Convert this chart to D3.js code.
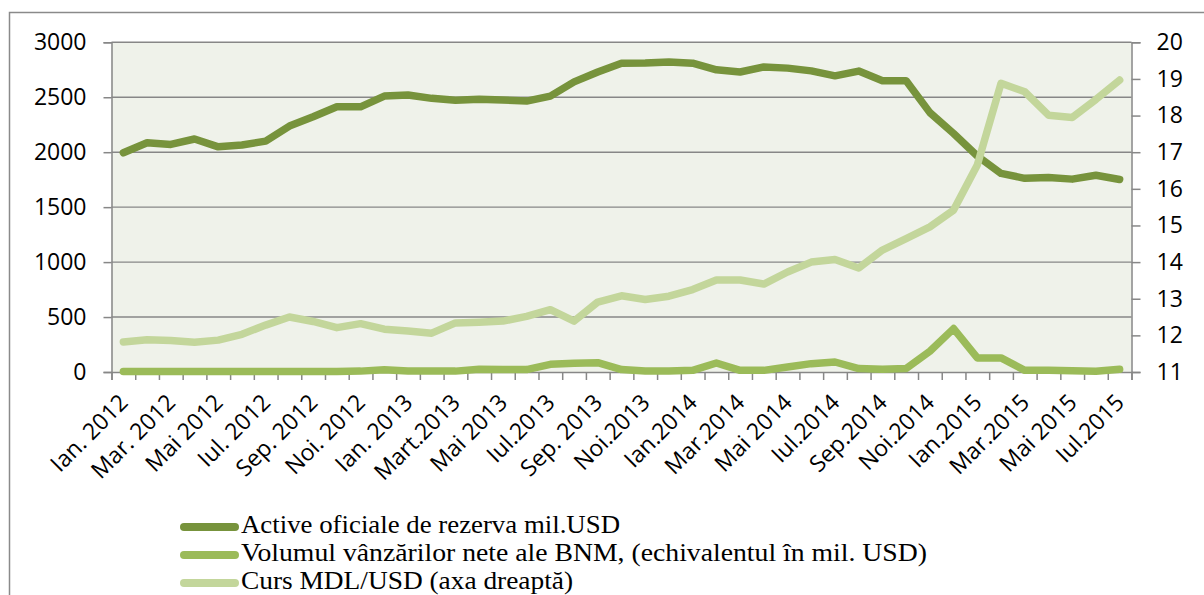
<!DOCTYPE html>
<html>
<head>
<meta charset="utf-8">
<script src="https://cdn.jsdelivr.net/npm/d3@7"></script>
<style>
  html, body { margin: 0; padding: 0; background: #fff; }
  svg { display: block; }
</style>
</head>
<body>
<svg id="chart" width="1204" height="595"></svg>
<script>
// ---- DATA ----
const categories = [
  "Ian. 2012","Feb. 2012","Mar. 2012","Apr. 2012","Mai 2012","Iun. 2012","Iul. 2012","Aug. 2012","Sep. 2012","Oct. 2012","Noi. 2012","Dec. 2012",
  "Ian. 2013","Feb. 2013","Mart.2013","Apr. 2013","Mai 2013","Iun. 2013","Iul.2013","Aug. 2013","Sep. 2013","Oct. 2013","Noi.2013","Dec. 2013",
  "Ian.2014","Feb.2014","Mar.2014","Apr.2014","Mai 2014","Iun.2014","Iul.2014","Aug.2014","Sep.2014","Oct.2014","Noi.2014","Dec.2014",
  "Ian.2015","Feb.2015","Mar.2015","Apr.2015","Mai 2015","Iun.2015","Iul.2015"
];
const tickLabels = categories.filter((d, i) => i % 2 === 0);

const activeReserves = [
  1995, 2086, 2071, 2120, 2049, 2065, 2101, 2238, 2322, 2413, 2413, 2511,
  2520, 2490, 2472, 2482, 2475, 2465, 2510, 2640, 2730, 2810, 2812, 2820,
  2810, 2750, 2730, 2775, 2765, 2740, 2695, 2738, 2650, 2650, 2360, 2170,
  1965, 1807, 1762, 1770, 1755, 1790, 1752
];
const netSales = [
  5, 5, 5, 5, 5, 5, 5, 5, 5, 5, 8, 20,
  10, 8, 8, 25, 22, 22, 70, 80, 85, 22, 9, 9,
  15, 82, 15, 15, 46, 76, 91, 31, 25, 31, 189, 395,
  128, 128, 15, 15, 12, 6, 25
];
const exchangeRate = [
  11.82, 11.88, 11.86, 11.81, 11.87, 12.03, 12.28, 12.50, 12.38, 12.21, 12.32, 12.17,
  12.12, 12.06, 12.34, 12.36, 12.39, 12.52, 12.70, 12.39, 12.91, 13.08, 12.98, 13.07,
  13.25, 13.51, 13.51, 13.40, 13.73, 14.00, 14.07, 13.84, 14.33, 14.64, 14.96, 15.42,
  16.65, 18.88, 18.65, 18.01, 17.95, 18.44, 18.97
];
const leftTicks = [0, 500, 1000, 1500, 2000, 2500, 3000];
const rightTicks = [11, 12, 13, 14, 15, 16, 17, 18, 19, 20];
const seriesNames = [
  "Active oficiale de rezerva mil.USD",
  "Volumul vânzărilor nete ale BNM, (echivalentul în mil. USD)",
  "Curs MDL/USD (axa dreaptă)"
];

// ---- LAYOUT ----
const svg = d3.select("#chart");
const L = 111.5, R = 1131.5, T = 42.3, B = 372;
const colDark = "#77933C", colMid = "#9BBB59", colLight = "#C3D69B";
const gridCol = "#878787";
const sansFont = "'Open Sans', 'Liberation Sans', sans-serif";

const x = d3.scaleBand().domain(categories).range([L, R]).paddingInner(0).paddingOuter(0);
const xc = d => x(d) + x.bandwidth() / 2;
const xEdge = d3.scaleLinear().domain([0, categories.length]).range([L, R]);
const yL = d3.scaleLinear().domain([0, 3000]).range([B, T]);
const yR = d3.scaleLinear().domain([11, 20]).range([B, T]);

// outer frame
svg.append("path")
  .attr("d", `M9.5,600 L9.5,12.5 L1210,12.5`)
  .attr("fill", "none").attr("stroke", "#8a8a8a").attr("stroke-width", 1.5);

// plot background
svg.append("rect").attr("x", L).attr("y", T).attr("width", R - L).attr("height", B - T)
  .attr("fill", "#EFF2EA");

// gridlines
svg.append("g").selectAll("line").data(leftTicks.filter(v => v > 0)).join("line")
  .attr("x1", L).attr("x2", R).attr("y1", d => yL(d)).attr("y2", d => yL(d))
  .attr("stroke", gridCol).attr("stroke-width", 1.4);

// left axis
const axL = svg.append("g").attr("transform", `translate(${L},0)`)
  .call(d3.axisLeft(yL).tickValues(leftTicks).tickSize(8).tickPadding(17).tickFormat(d3.format("d")));
// right axis
const axR = svg.append("g").attr("transform", `translate(${R},0)`)
  .call(d3.axisRight(yR).tickValues(rightTicks).tickSize(9).tickPadding(16).tickFormat(d3.format("d")));
// bottom axis (ticks at band edges)
const axB = svg.append("g").attr("transform", `translate(0,${B})`)
  .call(d3.axisBottom(xEdge).tickValues(d3.range(categories.length + 1)).tickSize(8).tickFormat(""));

[axL, axR, axB].forEach(g => {
  g.selectAll(".domain").attr("stroke", gridCol).attr("stroke-width", 1.5);
  g.selectAll(".tick line").attr("stroke", gridCol).attr("stroke-width", 1.5);
  g.selectAll(".tick text").attr("fill", "#000").style("font-family", sansFont).style("font-size", "23px");
});

// x labels
svg.append("g").selectAll("text").data(tickLabels).join("text")
  .attr("transform", d => `translate(${xc(d) + 6},${B + 32}) rotate(-45)`)
  .attr("text-anchor", "end")
  .style("font-family", sansFont).style("font-size", "23px").attr("fill", "#000")
  .text(d => d);

// lines
const lineL = d3.line().x((d, i) => xc(categories[i])).y(d => yL(d));
const lineR = d3.line().x((d, i) => xc(categories[i])).y(d => yR(d));
const drawLine = (data, gen, col) => svg.append("path").datum(data)
  .attr("d", gen).attr("fill", "none").attr("stroke", col).attr("stroke-width", 7.5)
  .attr("stroke-linejoin", "round").attr("stroke-linecap", "round");
drawLine(activeReserves, lineL, colDark);
drawLine(netSales, lineL, colMid);
drawLine(exchangeRate, lineR, colLight);

// legend
const legendCols = [colDark, colMid, colLight];
const legendLens = [379, 686, 332];
const lg = svg.append("g");
seriesNames.forEach((name, i) => {
  const yb = 533 + i * 28;
  lg.append("line").attr("x1", 184).attr("x2", 235).attr("y1", yb - 6).attr("y2", yb - 6)
    .attr("stroke", legendCols[i]).attr("stroke-width", 8).attr("stroke-linecap", "round");
  lg.append("text").attr("x", 241).attr("y", yb)
    .style("font-family", "'Liberation Serif', 'DejaVu Serif', serif").style("font-size", "25px")
    .attr("textLength", legendLens[i]).attr("lengthAdjust", "spacingAndGlyphs")
    .attr("fill", "#000").text(name);
});
</script>
</body>
</html>
